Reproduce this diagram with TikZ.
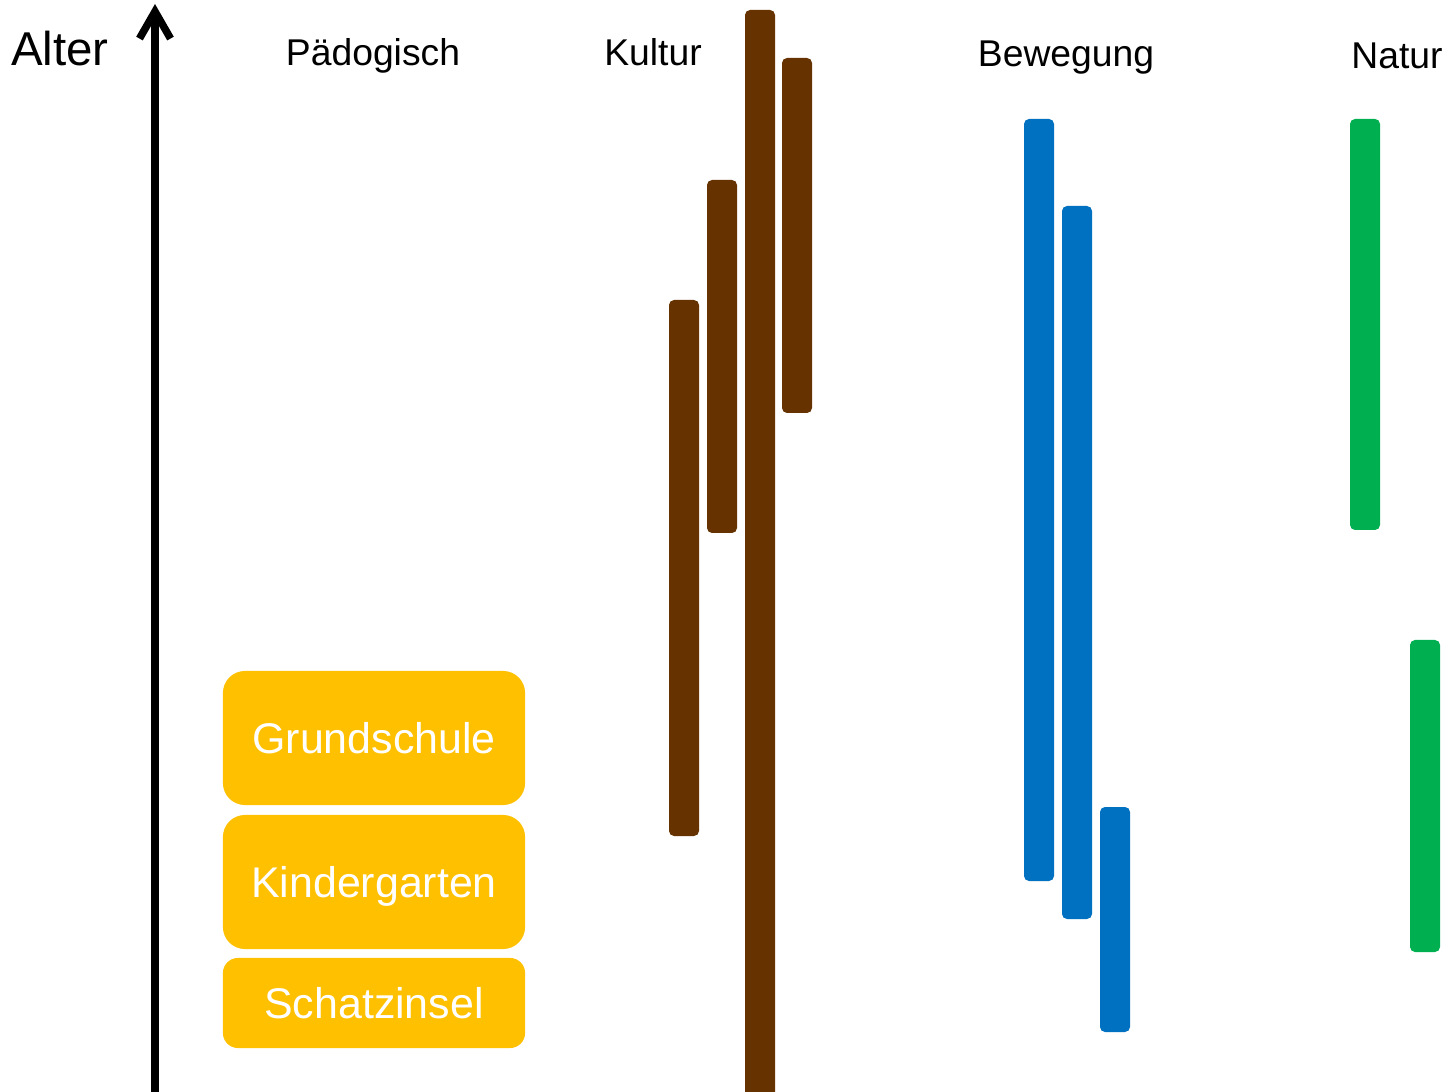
\documentclass[tikz,border=0pt]{standalone}
\usepackage{fontspec}
\setmainfont{Liberation Sans}
\usepackage{xcolor}
\usetikzlibrary{arrows.meta}

\definecolor{braun}{HTML}{663300}
\definecolor{blau}{HTML}{0070C0}
\definecolor{gruen}{HTML}{00B050}
\definecolor{gelb}{HTML}{FFC000}

\tikzset{
  titel/.style={anchor=base, font=\fontsize{10.6}{12}\selectfont},
  stufe/.style={rectangle, rounded corners=0.22cm, fill=gelb, text=white,
    minimum width=3.02cm, minimum height=1.34cm, inner sep=0pt,
    text height=0.31cm, text depth=0pt,
    font=\fontsize{12.2}{14}\selectfont},
  balken/.style={rounded corners=0.05cm}
}

\begin{document}
\begin{tikzpicture}[x=0.01cm, y=-0.01cm]

      \useasboundingbox (0,0) rectangle (1452,1092);

      \draw[line width=0.075cm, line cap=round, line join=round,
        -{Straight Barb[length=0.27cm, width=0.31cm]}] (155,1100) -- (155,4);
      \node[anchor=base] (alter) at (60,66) {\fontsize{13.5}{15}\selectfont Alter};

      \node[titel] (paed) at (373,66) {Pädogisch};
      \node[titel] (kultur) at (653,66) {Kultur};
      \node[titel] (bewegung) at (1066,67) {Bewegung};
      \node[titel] (natur) at (1397,69) {Natur};

      \node[stufe] (grundschule) at (374,738) {Grundschule};
      \node[stufe] (kindergarten) at (374,882) {Kindergarten};
      \node[stufe, minimum height=0.90cm, rounded corners=0.15cm] (schatzinsel) at (374,1003) {Schatzinsel};

      \foreach \farbe/\x/\oben/\unten in {braun/669/300/836, braun/707/180/533,
        braun/745/10/1110, braun/782/58/413,
        blau/1024/119/881, blau/1062/206/919, blau/1100/807/1032,
        gruen/1350/119/530, gruen/1410/640/952}
      \fill[balken, \farbe] (\x,\oben) rectangle ({\x+30},\unten);

    \end{tikzpicture}
\end{document}
